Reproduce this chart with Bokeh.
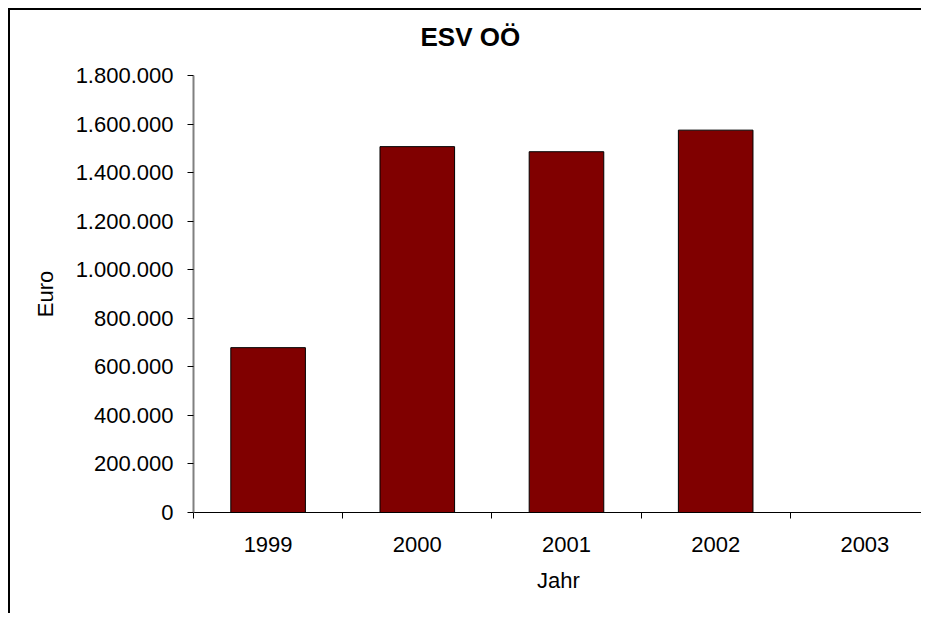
from bokeh.plotting import figure
from bokeh.models import Range1d, FixedTicker, CustomJSTickFormatter, ColumnDataSource, Title
from bokeh.embed import file_html
from bokeh.resources import INLINE

years = ["1999", "2000", "2001", "2002", "2003"]
values = [679000, 1507000, 1486000, 1575000, 0]
y_ticks = [0, 200000, 400000, 600000, 800000, 1000000, 1200000, 1400000, 1600000, 1800000]
title_text = "ESV OÖ"

xpos = [i + 0.5 for i in range(len(years))]
src = ColumnDataSource(dict(x=xpos, top=values, year=years))

p = figure(width=913, height=605, output_backend="svg", toolbar_location=None,
           x_range=Range1d(0, 4.893), y_range=Range1d(0, 1800000),
           min_border_left=183, min_border_right=0, min_border_top=65, min_border_bottom=103)
p.styles = {"border-left": "2px solid #000000", "border-top": "2px solid #000000",
            "margin-left": "8px", "margin-top": "8px"}

p.vbar(x="x", top="top", width=0.5, bottom=0, source=src,
       fill_color="#800000", line_color="#000000", line_width=1)

p.outline_line_color = None
p.xgrid.grid_line_color = None
p.ygrid.grid_line_color = None
p.background_fill_color = "white"
p.border_fill_color = "white"

spacer = Title(text=" ", text_font="Liberation Sans", text_font_size="10px", standoff=11)
main_title = Title(text=title_text, text_font="Liberation Sans", text_font_size="26px",
                   text_font_style="bold", text_color="#000000", align="left", offset=227,
                   vertical_align="bottom", standoff=0)
p.add_layout(spacer, "above")
p.add_layout(main_title, "above")

xa = p.xaxis[0]
xa.ticker = FixedTicker(ticks=xpos, minor_ticks=list(range(len(years) + 1)))
xa.major_label_overrides = {x: y for x, y in zip(xpos, years)}
xa.major_tick_line_color = None
xa.minor_tick_line_color = "#000000"
xa.minor_tick_out = 6
xa.minor_tick_in = 0
xa.axis_line_color = "#000000"
xa.axis_line_width = 1
xa.axis_label = "Jahr"
xa.major_label_standoff = 18
xa.axis_label_standoff = 13

ya = p.yaxis[0]
ya.ticker = FixedTicker(ticks=y_ticks, minor_ticks=[])
ya.formatter = CustomJSTickFormatter(code="""
return Math.round(tick).toString().replace(/\\B(?=(\\d{3})+(?!\\d))/g, '.');
""")
ya.axis_line_color = "#808080"
ya.axis_line_width = 2
ya.major_tick_line_color = "#000000"
ya.major_tick_out = 6
ya.major_tick_in = 0
ya.minor_tick_line_color = None
ya.axis_label = "Euro"
ya.major_label_standoff = 14
ya.axis_label_standoff = 15

for ax in (xa, ya):
    ax.major_label_text_font = "Liberation Sans"
    ax.major_label_text_font_size = "22px"
    ax.major_label_text_color = "#000000"
    ax.axis_label_text_font = "Liberation Sans"
    ax.axis_label_text_font_size = "22px"
    ax.axis_label_text_font_style = "normal"
    ax.axis_label_text_color = "#000000"

open("out.html", "w").write(file_html(p, INLINE))
